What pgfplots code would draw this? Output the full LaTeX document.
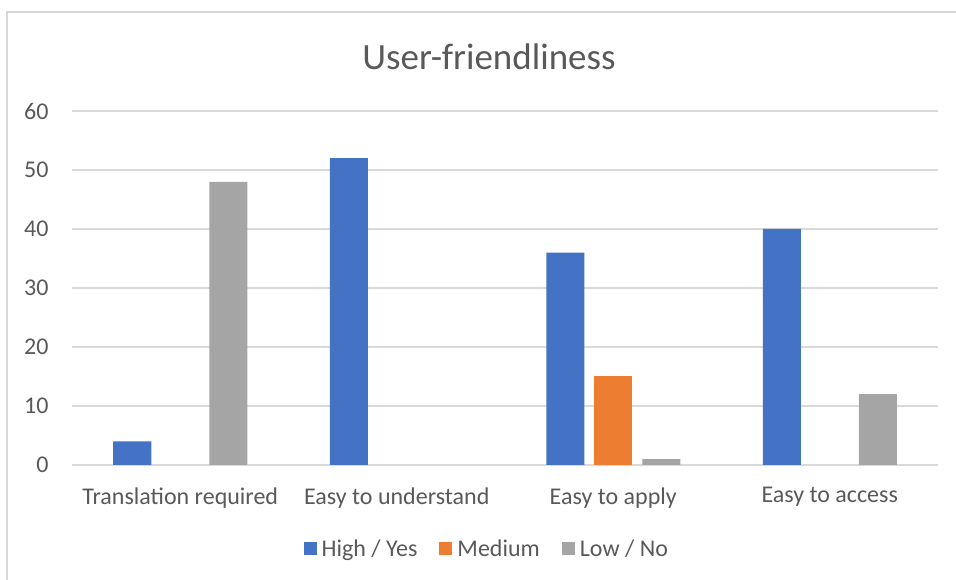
\documentclass[border=0pt]{standalone}
\usepackage{pgfplots}
\pgfplotsset{compat=1.18}
\usepackage{fontspec}
\setmainfont{Carlito}
\definecolor{cblue}{HTML}{4472C4}
\definecolor{corange}{HTML}{ED7D31}
\definecolor{cgray}{HTML}{A5A5A5}
\definecolor{ctext}{HTML}{595959}
\definecolor{cgrid}{HTML}{D9D9D9}
\begin{document}
\begin{tikzpicture}[x=1pt,y=1pt]
\useasboundingbox (-72,-115) rectangle (884,465);
\draw[cgrid,line width=1.2pt] (-65,-115) -- (-65,453) -- (884,453);
\begin{axis}[
  at={(0,0)}, anchor=south west,
  scale only axis, width=866pt, height=354pt,
  xmin=-0.5, xmax=3.5, ymin=0, ymax=60,
  ytick={0,10,...,60},
  xtick={0,1,2,3},
  xticklabels={Translation required, Easy to understand, Easy to apply, Easy to access},
  major tick length=0pt,
  axis line style={draw=none},
  ymajorgrids, grid style={cgrid, line width=1.2pt},
  ybar, bar width=38pt,
  tick label style={font=\fontsize{24}{28}\selectfont, text=ctext},
  /pgf/number format/assume math mode=true,
  yticklabel style={xshift=-20pt},
  xticklabel style={yshift=-19pt},
  legend columns=3,
  legend style={at={(0.479,-0.237)}, anchor=center, draw=none, fill=none,
    font=\fontsize{24}{28}\selectfont, text=ctext,
    /tikz/every odd column/.append style={column sep=3pt},
    /tikz/every even column/.append style={column sep=20pt}},
  legend image code/.code={\fill[#1] (0pt,-6.5pt) rectangle (13pt,6.5pt);},
]
\addplot[fill=cblue, draw=none, bar shift=-48pt] coordinates {(0,4) (1,52) (2,36) (3,40)};
\addplot[fill=corange, draw=none, bar shift=0pt] coordinates {(2,15)};
\addplot[fill=cgray, draw=none, bar shift=48pt] coordinates {(0,48) (2,1) (3,12)};
\legend{High / Yes, Medium, Low / No}
\end{axis}
\node[text=ctext, font=\fontsize{37}{44}\selectfont] at (417,408) {User-friendliness};
\end{tikzpicture}
\end{document}
